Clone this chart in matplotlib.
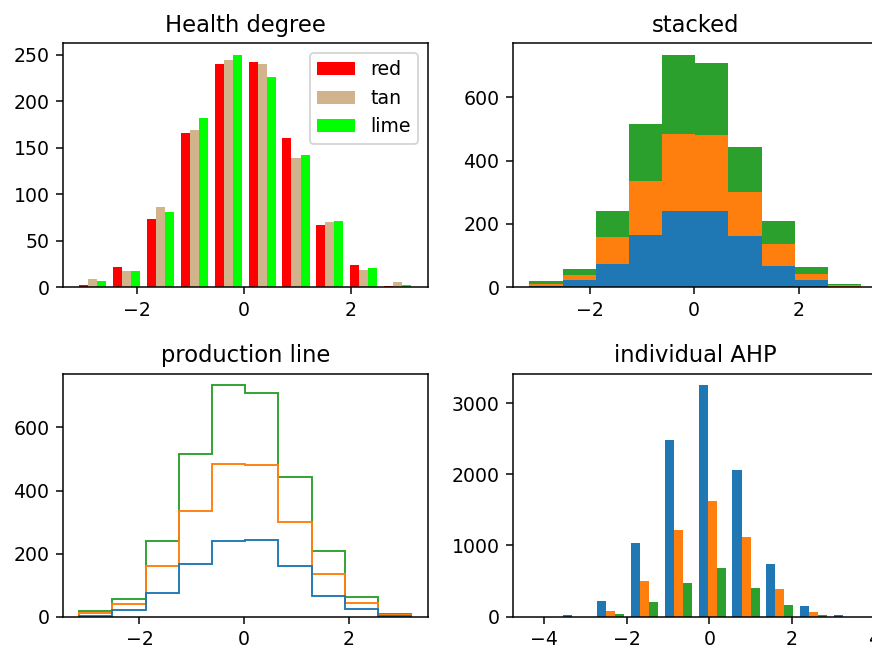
import numpy as np
import matplotlib
matplotlib.use("Agg")
import matplotlib.pyplot as plt

# bin edges (10 equal bins)
edges = np.linspace(-3.15, 3.19, 11)
red_counts = [3, 22, 74, 166, 240, 242, 161, 67, 24, 1]
tan_counts = [9, 18, 86, 169, 244, 240, 139, 70, 19, 6]
lime_counts = [7, 17, 81, 182, 250, 226, 142, 71, 21, 3]
colors = ['red', 'tan', 'lime']

# bottom right: samples of 10000, 5000, 2000
edges_multi = np.linspace(-4.44, 3.76, 11)
big_counts = [1, 24, 225, 1040, 2485, 3250, 2065, 740, 150, 20]
mid_counts = [0, 2, 85, 500, 1215, 1620, 1120, 385, 70, 3]
small_counts = [0, 0, 45, 200, 480, 680, 400, 165, 28, 2]

centers = (edges[:-1] + edges[1:]) / 2
centers_multi = (edges_multi[:-1] + edges_multi[1:]) / 2
counts = [red_counts, tan_counts, lime_counts]

dpi = 136
fig = plt.figure(figsize=(872 / dpi, 650 / dpi), dpi=dpi)
ax0 = fig.add_axes([0.0719, 0.558, 0.4186, 0.3754])
ax1 = fig.add_axes([0.588, 0.558, 0.4186, 0.3754])
ax2 = fig.add_axes([0.0719, 0.0512, 0.4186, 0.374])
ax3 = fig.add_axes([0.588, 0.0512, 0.4186, 0.374])

ax0.hist([centers] * 3, bins=edges, weights=counts, histtype='bar',
         color=colors, label=colors)
ax0.legend(prop={'size': 10})
ax0.set_title('Health degree')

ax1.hist([centers] * 3, bins=edges, weights=counts, histtype='bar', stacked=True)
ax1.set_title('stacked')

ax2.hist([centers] * 3, bins=edges, weights=counts, histtype='step',
         stacked=True, fill=False)
ax2.set_title('production line')

ax3.hist([centers_multi] * 3, bins=edges_multi,
         weights=[big_counts, mid_counts, small_counts], histtype='bar')
ax3.set_title('individual AHP')

fig.savefig('out.png', dpi=dpi)
